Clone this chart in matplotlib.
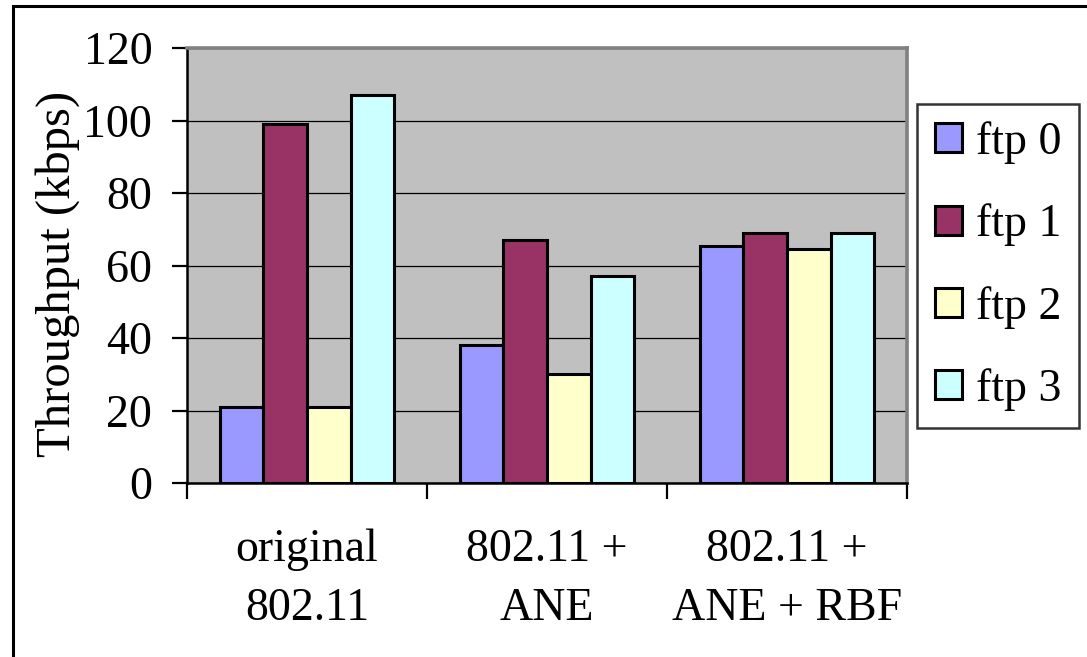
import matplotlib
matplotlib.use("Agg")
import matplotlib.pyplot as plt
from matplotlib.patches import Patch, Rectangle
import numpy as np

categories = ["original\n802.11", "802.11 +\nANE", "802.11 +\nANE + RBF"]
series_names = ["ftp 0", "ftp 1", "ftp 2", "ftp 3"]
ftp0 = [21, 38, 65.5]
ftp1 = [99, 67, 69]
ftp2 = [21, 30, 64.5]
ftp3 = [107, 57, 69]
yticks = [0, 20, 40, 60, 80, 100, 120]
colors = ["#9999FF", "#993366", "#FFFFCC", "#CCFFFF"]

plt.rcParams['font.family'] = ['Liberation Serif', 'DejaVu Serif']
FS = 33

W, H = 1087, 657
fig = plt.figure(figsize=(W / 100, H / 100), dpi=100)
ax = fig.add_axes([187 / W, 1 - 483 / H, 720 / W, 435 / H])
ax.set_facecolor("#C0C0C0")

data = [ftp0, ftp1, ftp2, ftp3]
x = np.arange(len(categories))
w = 1 / 5.5
for j, vals in enumerate(data):
    ax.bar(x + (j - 1.5) * w, vals, width=w, color=colors[j],
           edgecolor="black", linewidth=2.2, zorder=3)

ax.set_xlim(-0.5, 2.5)
ax.set_ylim(0, 120)
ax.set_yticks(yticks)
ax.set_yticklabels([str(v) for v in yticks], fontsize=FS)
ax.yaxis.grid(True, color="black", linewidth=0.9, zorder=1)
ax.set_axisbelow(True)

ax.set_xticks([-0.5, 0.5, 1.5, 2.5])
ax.set_xticklabels([])
ax.set_xticks(x, minor=True)
ax.set_xticklabels(categories, minor=True, fontsize=FS, linespacing=1.5)
ax.tick_params(axis="x", which="major", direction="out", length=11.5, width=1.6, color="black")
ax.tick_params(axis="x", which="minor", length=0, pad=33)
ax.tick_params(axis="y", direction="out", length=11, width=1.6, pad=14, color="black")

for s in ["top", "right"]:
    ax.spines[s].set_color("#808080")
    ax.spines[s].set_linewidth(2.6)
for s in ["left", "bottom"]:
    ax.spines[s].set_color("black")
    ax.spines[s].set_linewidth(1.8)

ax.set_ylabel("Throughput (kbps)", fontsize=35)
ax.yaxis.set_label_coords(-0.148, 0.48)

handles = [Patch(facecolor=colors[j], edgecolor="black", linewidth=2.2) for j in range(4)]
leg = fig.legend(handles, series_names, loc="center",
                 bbox_to_anchor=(998 / W, 1 - 266 / H),
                 fontsize=FS, frameon=True, fancybox=False,
                 handlelength=0.6, handleheight=0.6, handletextpad=0.3,
                 labelspacing=0.86, borderpad=0.38, borderaxespad=0)
leg.get_frame().set_edgecolor("black")
leg.get_frame().set_linewidth(1.8)

fig.patches.append(Rectangle((13 / W, -0.1), 2, (1 - 6 / H) + 0.1,
                             transform=fig.transFigure, fill=False,
                             edgecolor="black", linewidth=2.2, clip_on=False))

fig.savefig("out.png", dpi=100)
